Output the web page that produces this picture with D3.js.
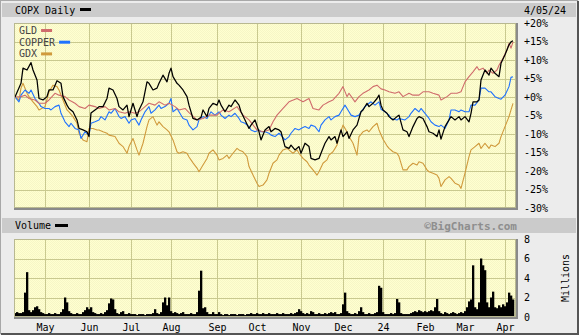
<!DOCTYPE html>
<html>
<head>
<meta charset="utf-8">
<script src="https://cdn.jsdelivr.net/npm/d3@7"></script>
<style>
html,body{margin:0;padding:0;background:#ececec;}
svg{display:block;}
text{font-family:"DejaVu Sans Mono","Liberation Mono",monospace;}
</style>
</head>
<body>
<script>
// ---- data (trading-day index from 6 Apr 2023, % change) ----
const monthTicks = [16,38,59,79,102,122,144,165,185,206,226,246];
const monthLabels = ["May","Jun","Jul","Aug","Sep","Oct","Nov","Dec","24","Feb","Mar","Apr"];
const pctTicks = [20,15,10,5,0,-5,-10,-15,-20,-25,-30];
const volTicks = [0,2,4,6,8];
const seriesNames = ["GLD","COPPER","GDX"];
const seriesColors = ["#d06c6c","#1f72ff","#d09a3c"];

const copx = [[1,0],[4,3.7],[5,7.8],[7,7.3],[9,9.3],[10,7.3],[12,4.6],[13,-0.4],[15,-0.8],[17,0.1],[18,1.9],[20,1.9],[22,4.4],[24,3.7],[25,0.1],[27,-2.2],[28,-3.1],[30,-4.0],[32,-6.2],[33,-8.5],[35,-8.9],[37,-9.4],[38,-10.7],[39,-4.3],[42,-3.1],[43,-2.6],[45,-2.6],[47,-0.4],[48,2.4],[50,1.9],[52,-0.4],[53,-2.6],[55,-3.5],[57,-2.2],[58,-5.3],[60,-1.7],[62,-5.3],[63,-3.5],[65,-1.3],[67,4.1],[68,3.7],[70,1.9],[72,2.4],[73,3.7],[75,5.9],[77,4.1],[78,6.4],[79,7.8],[80,5.5],[82,3.7],[83,3.2],[85,1.9],[87,0.1],[88,-2.2],[90,-5.8],[92,-6.2],[94,-5.5],[95,-3.5],[97,-5.3],[98,-3.1],[100,-1.7],[102,-2.2],[103,-0.8],[104,-2.2],[106,-4.0],[108,-2.2],[109,-2.6],[111,-0.8],[113,-2.2],[114,-4.0],[116,-6.2],[118,-8.5],[119,-7.6],[121,-6.2],[123,-9.4],[124,-11.6],[126,-8.9],[128,-8.0],[129,-9.4],[131,-8.5],[133,-8.9],[134,-9.4],[136,-13.4],[138,-13.9],[139,-13.0],[141,-14.3],[143,-13.4],[144,-15.2],[146,-12.5],[148,-13.4],[149,-16.6],[151,-17.0],[153,-16.6],[154,-15.2],[156,-12.5],[158,-10.7],[159,-11.6],[161,-10.7],[162,-12.5],[164,-8.9],[165,-10.7],[167,-9.4],[168,-11.2],[170,-8.9],[172,-7.6],[174,-4.0],[175,-3.5],[177,-1.7],[178,-2.6],[180,-1.7],[182,-0.4],[183,0.5],[184,-2.2],[185,-3.5],[187,-4.4],[188,-5.3],[190,-6.2],[192,-5.3],[193,-4.9],[195,-8.9],[197,-9.4],[198,-10.7],[200,-8.0],[202,-5.8],[203,-5.3],[205,-5.8],[207,-8.0],[208,-9.4],[210,-9.8],[212,-10.7],[213,-8.9],[214,-11.4],[216,-8.0],[218,-6.2],[219,-5.3],[221,-6.2],[223,-5.3],[224,-6.2],[226,-5.3],[228,-6.7],[229,-4.4],[230,-1.3],[232,-1.3],[233,-0.8],[234,4.6],[236,7.3],[238,5.9],[239,7.8],[241,6.4],[243,5.5],[244,9.1],[246,11.4],[248,14.1],[249,14.9],[250,15.2]];

const gld = [[1,0],[4,0.1],[6,0.5],[8,-0.4],[11,-0.8],[13,-1.7],[16,-1.7],[18,-0.8],[21,1.0],[23,0.5],[26,0.1],[28,-0.8],[31,-1.7],[33,-2.6],[36,-3.1],[38,-2.2],[41,-2.6],[43,-3.1],[46,-2.6],[48,-3.5],[51,-3.1],[53,-4.0],[56,-4.4],[58,-4.0],[61,-4.4],[63,-4.0],[66,-2.6],[68,-1.7],[71,-2.2],[73,-1.3],[76,-2.2],[78,-1.7],[81,-2.6],[83,-3.5],[86,-3.1],[88,-4.2],[92,-6.2],[95,-5.8],[98,-4.9],[102,-4.9],[105,-3.5],[108,-4.0],[112,-2.6],[115,-4.9],[118,-6.2],[122,-8.9],[125,-9.4],[128,-8.9],[130,-6.7],[132,-4.9],[135,-3.1],[138,-1.3],[142,-0.4],[145,-1.3],[148,-0.4],[150,-3.1],[153,-3.5],[155,-2.2],[158,-1.3],[160,-0.8],[163,1.0],[165,2.8],[167,0.1],[168,1.0],[171,-1.3],[173,0.1],[175,1.0],[178,1.9],[180,2.8],[182,3.2],[184,2.2],[186,1.9],[188,1.4],[191,1.0],[193,1.4],[195,0.1],[198,1.0],[200,0.5],[203,0.5],[205,1.4],[208,1.4],[210,1.0],[213,0.5],[214,-0.8],[217,0.1],[219,1.0],[222,1.0],[224,1.4],[226,4.1],[228,5.5],[230,6.8],[232,8.2],[233,7.3],[235,7.8],[237,6.4],[238,7.3],[240,6.4],[242,7.3],[243,8.6],[245,10.5],[247,12.7],[248,14.5],[249,13.2],[250,14.9]];

const copper = [[1,0],[3,-1.3],[4,0.5],[6,1.9],[8,1.0],[9,1.9],[11,-0.4],[13,-1.7],[14,-2.6],[16,-3.1],[18,-3.1],[19,-3.5],[21,-2.6],[23,-2.2],[24,-4.4],[26,-6.7],[28,-8.0],[29,-7.1],[31,-8.5],[33,-8.9],[34,-11.2],[36,-9.4],[38,-10.3],[39,-7.1],[41,-6.7],[43,-6.2],[44,-5.3],[46,-6.2],[48,-4.0],[49,-4.4],[51,-3.1],[53,-5.3],[54,-5.8],[56,-5.3],[58,-7.1],[59,-6.2],[61,-5.8],[63,-7.6],[64,-6.2],[66,-4.0],[68,-2.6],[69,-4.4],[71,-3.5],[73,-2.2],[74,-3.1],[76,-2.6],[78,-1.7],[79,-0.4],[80,-4.0],[82,-3.1],[83,-4.0],[85,-5.8],[87,-6.2],[88,-7.6],[90,-8.9],[92,-8.0],[93,-6.2],[95,-5.3],[97,-5.8],[99,-4.0],[101,-4.9],[103,-4.0],[104,-4.9],[106,-5.8],[108,-4.9],[109,-5.3],[111,-4.4],[113,-5.8],[114,-6.7],[116,-7.1],[118,-8.0],[119,-8.9],[121,-9.4],[123,-8.9],[124,-9.4],[126,-9.4],[128,-9.8],[129,-10.3],[131,-10.7],[133,-9.8],[134,-10.3],[136,-11.6],[138,-10.7],[139,-9.8],[141,-8.5],[143,-8.9],[144,-8.5],[146,-8.0],[148,-8.5],[149,-7.6],[151,-8.0],[153,-9.4],[154,-7.6],[156,-6.2],[158,-5.3],[159,-6.2],[161,-5.3],[163,-4.9],[164,-4.0],[166,-2.2],[168,-4.0],[169,-4.9],[171,-5.3],[173,-4.9],[174,-4.0],[176,-2.6],[178,-1.7],[179,-1.3],[181,-2.2],[183,-1.3],[184,-3.3],[186,-4.0],[188,-4.9],[189,-5.8],[192,-6.2],[193,-5.8],[196,-6.2],[198,-5.3],[199,-4.4],[201,-3.1],[203,-4.0],[204,-3.1],[206,-4.4],[208,-5.8],[209,-6.7],[211,-7.6],[213,-8.0],[214,-7.6],[216,-8.5],[218,-6.2],[219,-3.5],[221,-3.5],[223,-4.0],[224,-3.5],[226,-4.0],[228,-4.0],[229,-2.2],[231,-2.2],[233,-0.8],[234,2.4],[236,2.4],[238,1.4],[239,1.4],[241,0.1],[243,-0.4],[244,-0.6],[246,0.5],[248,2.8],[249,5.3],[250,5.5]];

const gdx = [[1,0],[3,-0.8],[4,2.4],[5,3.7],[7,1.0],[8,0.1],[10,-1.3],[12,-2.6],[13,-3.5],[16,-2.6],[18,1.4],[20,3.2],[22,2.8],[23,1.9],[25,-0.8],[27,-3.5],[28,-4.0],[30,-5.3],[32,-7.1],[33,-9.8],[35,-11.6],[37,-12.1],[38,-8.5],[40,-8.5],[42,-8.9],[43,-8.9],[45,-9.4],[47,-9.8],[48,-10.3],[51,-10.7],[53,-12.5],[55,-13.4],[57,-15.2],[58,-13.4],[60,-11.2],[62,-14.3],[63,-15.7],[65,-12.5],[67,-8.0],[68,-6.2],[70,-5.3],[72,-7.6],[73,-6.7],[75,-8.0],[77,-8.9],[78,-9.4],[80,-11.6],[82,-14.8],[83,-15.2],[85,-14.8],[87,-15.2],[88,-16.2],[90,-17.8],[92,-19.2],[93,-20.2],[95,-18.4],[97,-16.6],[98,-15.2],[100,-14.3],[102,-15.7],[103,-17.0],[105,-16.6],[107,-15.7],[108,-16.6],[110,-15.2],[112,-13.9],[113,-14.3],[115,-14.8],[117,-16.1],[118,-18.8],[120,-21.1],[122,-23.3],[123,-24.2],[125,-23.8],[127,-22.4],[128,-20.6],[130,-17.9],[132,-17.0],[133,-15.7],[135,-14.3],[137,-13.9],[138,-14.3],[140,-15.2],[142,-14.3],[143,-15.2],[145,-16.6],[147,-17.5],[148,-18.4],[150,-19.7],[152,-21.1],[153,-20.2],[155,-17.9],[157,-17.0],[158,-15.7],[160,-14.8],[162,-13.0],[163,-10.7],[165,-7.6],[167,-9.4],[168,-10.7],[170,-12.5],[172,-15.7],[173,-10.7],[175,-9.4],[177,-8.9],[178,-9.4],[180,-8.0],[182,-7.1],[183,-8.9],[185,-11.4],[187,-13.2],[188,-13.9],[190,-14.8],[192,-15.2],[193,-16.1],[195,-19.7],[197,-19.7],[198,-18.8],[200,-17.9],[202,-18.4],[203,-17.5],[205,-17.9],[207,-19.7],[208,-20.2],[210,-20.6],[212,-21.1],[213,-22.0],[214,-24.2],[216,-22.4],[218,-21.5],[219,-22.0],[221,-23.3],[223,-23.8],[224,-24.7],[226,-20.6],[228,-16.1],[229,-14.3],[231,-13.4],[233,-12.5],[234,-13.9],[236,-12.5],[238,-13.9],[239,-13.0],[241,-13.4],[243,-12.5],[244,-10.7],[246,-8.0],[248,-5.3],[249,-3.5],[250,-1.7]];

// daily volume, millions (index = trading day)
const volume = [0.4,0.4,0.5,0.4,0.4,0.5,
2.5,4.6,0.7,0.5,0.7,1.0,1.1,0.8,0.5,
0.4,0.3,0.3,0.4,0.3,0.3,0.4,0.3,0.3,0.5,
0.8,2.0,1.5,0.6,0.4,
0.3,0.3,0.4,0.3,0.3,0.5,
0.7,1.0,0.8,1.0,0.5,
0.4,0.3,0.3,0.4,0.3,0.5,
0.7,1.4,1.9,1.8,0.8,
0.4,0.3,0.5,0.6,0.3,0.3,0.4,0.3,0.3,
0.3,0.2,0.3,0.3,0.3,0.2,0.3,0.3,0.3,0.4,
0.8,0.4,0.3,0.5,
1.5,2.0,1.2,2.0,0.6,0.4,
0.5,0.4,0.3,0.4,0.5,0.3,0.3,0.3,0.4,0.3,0.3,0.5,
2.7,4.75,0.9,1.0,0.5,
0.3,0.3,0.5,0.3,0.3,0.5,0.3,0.2,0.3,0.3,0.2,0.3,0.3,
0.3,0.2,0.3,0.3,0.3,0.2,0.3,0.3,0.4,0.3,0.3,0.4,0.3,0.3,0.4,
0.3,0.3,0.4,0.3,0.3,0.3,0.4,0.3,0.3,0.4,0.3,0.3,0.3,0.4,0.3,0.4,0.5,
0.8,0.6,0.4,0.3,0.4,0.3,0.6,0.5,0.3,
0.3,0.4,0.3,0.3,0.4,0.3,0.4,0.5,0.4,0.5,0.3,0.3,0.4,
1.3,2.5,0.6,0.4,0.3,0.3,0.4,0.3,0.6,1.0,0.5,0.3,
0.3,0.4,0.3,0.3,0.4,0.5,
3.2,3.0,0.5,0.3,
0.3,0.3,0.4,0.3,0.4,
1.85,1.5,0.4,
0.3,0.3,0.3,0.3,0.4,
0.5,0.6,0.5,0.7,0.6,0.5,0.6,0.5,0.6,0.7,0.6,
1.0,1.85,0.6,
0.4,0.3,0.5,0.4,0.3,0.4,0.5,0.4,0.3,0.4,0.5,0.4,0.6,1.0,
1.6,1.8,5.3,1.0,0.8,1.5,
6.0,5.3,4.8,1.5,1.0,2.0,2.6,1.0,0.9,1.2,1.0,1.3,1.1,1.5,2.5,2.2,1.8];

// ---- drawing ----
const W = 579, H = 335;
const svg = d3.select("body").append("svg").attr("width", W).attr("height", H);

const plotL = 14, plotR = 516;
const mainT = 23, mainB = 208;
const volT = 239, volB = 317;

const x = d3.scaleLinear().domain([0, 250]).range([13, 513]);
const y = d3.scaleLinear().domain([-30, 20]).range([mainB, mainT]);
const yv = d3.scaleLinear().domain([0, 8]).range([volB, volT]);

// background & frame
svg.append("rect").attr("x",0).attr("y",0).attr("width",W).attr("height",H).attr("fill","#ececec");
svg.append("rect").attr("x",0.5).attr("y",0.5).attr("width",W-2).attr("height",H-2)
  .attr("fill","none").attr("stroke","#a8a8a8");
svg.append("path").attr("d",`M${W-1},1V${H-1}H1`).attr("fill","none").attr("stroke","#555").attr("stroke-width",2);

// header bands
svg.append("rect").attr("x",2).attr("y",3).attr("width",W-5).attr("height",14).attr("fill","#cbcbcb");
svg.append("rect").attr("x",2).attr("y",218).attr("width",W-5).attr("height",15).attr("fill","#cbcbcb");

svg.append("text").attr("x",15).attr("y",14).attr("font-size",10).attr("fill","#000").text("COPX Daily");
svg.append("rect").attr("x",80).attr("y",8).attr("width",11).attr("height",3).attr("fill","#000");
svg.append("text").attr("x",524).attr("y",14).attr("font-size",10).attr("fill","#000").text("4/05/24");

svg.append("text").attr("x",15).attr("y",229).attr("font-size",10).attr("fill","#000").text("Volume");
svg.append("rect").attr("x",55).attr("y",224).attr("width",13).attr("height",3).attr("fill","#000");
svg.append("text").attr("x",517).attr("y",230).attr("text-anchor","end")
  .attr("font-family","'DejaVu Sans',Verdana,sans-serif").attr("font-weight","bold")
  .attr("font-size",11).attr("fill","#8e8e8e").text("\u00A9BigCharts.com");

// pattern for plot fill
const defs = svg.append("defs");
const pat = defs.append("pattern").attr("id","dither").attr("width",2).attr("height",2).attr("patternUnits","userSpaceOnUse");
pat.append("rect").attr("width",2).attr("height",2).attr("fill","#ffffd0");
pat.append("rect").attr("width",1).attr("height",1).attr("fill","#f6f6c6");
pat.append("rect").attr("x",1).attr("y",1).attr("width",1).attr("height",1).attr("fill","#f6f6c6");

defs.append("clipPath").attr("id","clipMain").append("rect")
  .attr("x",plotL).attr("y",mainT).attr("width",plotR-plotL).attr("height",mainB-mainT);
defs.append("clipPath").attr("id","clipVol").append("rect")
  .attr("x",plotL).attr("y",volT).attr("width",plotR-plotL).attr("height",volB-volT);

function panel(top, bottom, yScale, ticks) {
  const g = svg.append("g");
  g.append("rect").attr("x",plotL).attr("y",top).attr("width",plotR-plotL).attr("height",bottom-top)
    .attr("fill","url(#dither)");
  const grid = g.append("g").attr("stroke","#c9c98f").attr("stroke-width",1).attr("shape-rendering","crispEdges");
  monthTicks.forEach(t => {
    grid.append("line").attr("x1",Math.round(x(t))+0.5).attr("x2",Math.round(x(t))+0.5)
      .attr("y1",top).attr("y2",bottom);
  });
  ticks.forEach(t => {
    const yy = Math.round(yScale(t))+0.5;
    grid.append("line").attr("x1",plotL).attr("x2",plotR).attr("y1",yy).attr("y2",yy);
  });
  return g;
}
function frame(top, bottom) {
  svg.append("rect").attr("x",plotL+0.5).attr("y",top+0.5).attr("width",plotR-plotL-1).attr("height",bottom-top-1)
    .attr("fill","none").attr("stroke","#b8b890").attr("shape-rendering","crispEdges");
  svg.append("path").attr("d",`M${plotR+0.5},${top}V${bottom+1}H${plotL}`)
    .attr("fill","none").attr("stroke","#8a8a8a").attr("stroke-width",2).attr("shape-rendering","crispEdges");
}

panel(mainT, mainB, y, pctTicks);
panel(volT, volB, yv, volTicks);

// price lines
const line = d3.line().x(d => x(d[0])).y(d => y(d[1]));
const gLines = svg.append("g").attr("clip-path","url(#clipMain)").attr("fill","none")
  .attr("stroke-linejoin","round");
[[gdx,seriesColors[2]],[copper,seriesColors[1]],[gld,seriesColors[0]]].forEach(([data,col]) => {
  gLines.append("path").attr("d",line(data)).attr("stroke",col).attr("stroke-width",1.1);
});
gLines.append("path").attr("d",line(copx)).attr("stroke","#000").attr("stroke-width",1.25);

// legend
const leg = svg.append("g");
seriesNames.forEach((name,i) => {
  const yy = 34 + i*11.7;
  const t = leg.append("text").attr("x",19).attr("y",yy).attr("font-size",10).attr("fill","#444").text(name);
  const w = t.node().getComputedTextLength();
  leg.append("rect").attr("x",19+w+4).attr("y",yy-5).attr("width",11).attr("height",3).attr("fill",seriesColors[i]);
});

// volume bars
const bw = x(1)-x(0);
svg.append("g").attr("clip-path","url(#clipVol)").selectAll("rect").data(volume).join("rect")
  .attr("x",(d,i) => x(i)-bw/2).attr("width",bw+0.3)
  .attr("y",d => yv(d)).attr("height",d => yv(0)-yv(d)+1).attr("fill","#000");

frame(mainT, mainB);
frame(volT, volB);

// axes
const fmt = d => (d >= 0 ? "+" : "-") + Math.abs(d) + "%";
const ax1 = svg.append("g").attr("transform",`translate(${plotR+8},0)`)
  .call(d3.axisRight(y).tickValues(pctTicks).tickFormat(fmt).tickSize(0).tickPadding(0));
const ax2 = svg.append("g").attr("transform",`translate(${plotR+8},0)`)
  .call(d3.axisRight(yv).tickValues(volTicks).tickFormat(d3.format("d")).tickSize(0).tickPadding(0));
const ax3 = svg.append("g").attr("transform",`translate(0,${volB+14})`)
  .call(d3.axisBottom(x).tickValues(monthTicks).tickFormat((d,i) => monthLabels[i]).tickSize(0).tickPadding(0));
[ax1,ax2,ax3].forEach(a => {
  a.select(".domain").remove();
  a.selectAll("text").attr("font-family","'DejaVu Sans Mono','Liberation Mono',monospace")
    .attr("font-size",10).attr("fill","#000");
});
ax3.selectAll("text").attr("dy","0");

svg.append("text").attr("transform","translate(569,278) rotate(-90)").attr("text-anchor","middle")
  .attr("font-size",10).attr("fill","#000").text("Millions");
</script>
</body>
</html>
